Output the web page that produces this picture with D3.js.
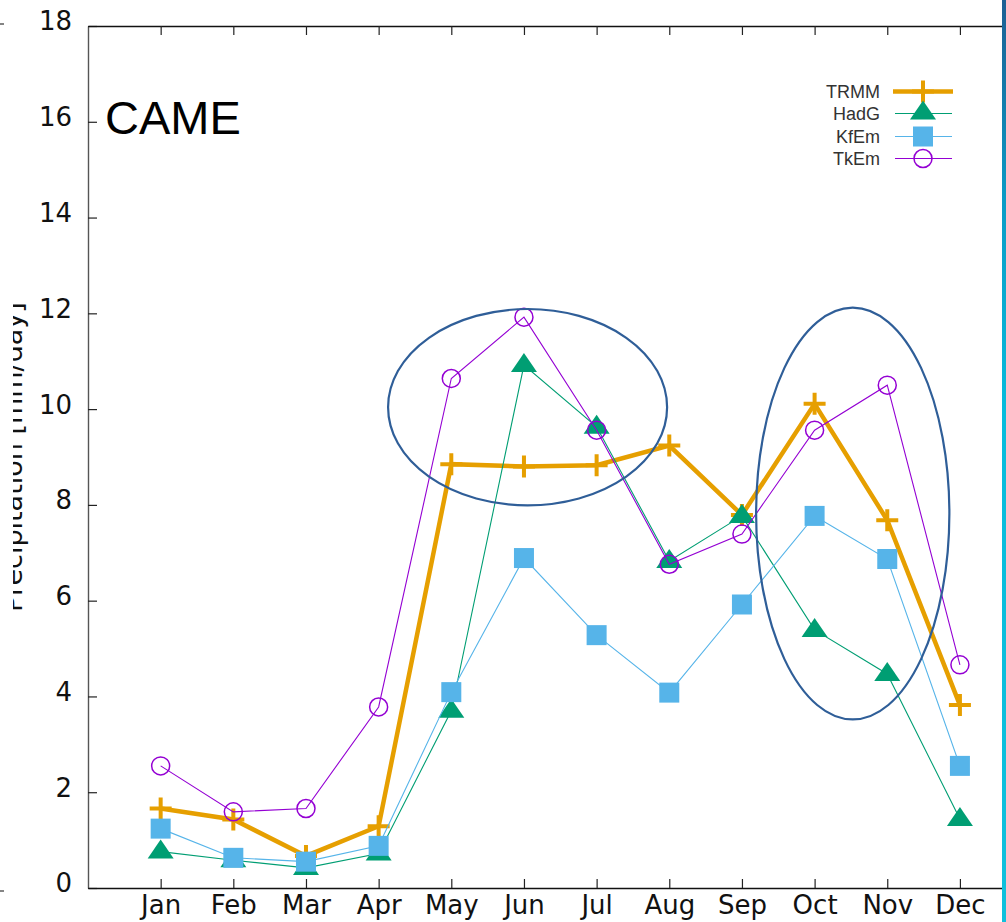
<!DOCTYPE html>
<html>
<head>
<meta charset="utf-8">
<script src="https://cdn.jsdelivr.net/npm/d3@7"></script>
<style>
  html, body { margin: 0; padding: 0; background: #fff; }
  svg { display: block; }
</style>
</head>
<body>
<svg id="chart" width="1006" height="922"></svg>
<script>
// Monthly mean precipitation (mm/day), CAME region
const months = ["Jan","Feb","Mar","Apr","May","Jun","Jul","Aug","Sep","Oct","Nov","Dec"];
const trmm = [1.66, 1.43, 0.67, 1.29, 8.85, 8.80, 8.83, 9.24, 7.79, 10.11, 7.68, 3.82];
const hadg = [0.76, 0.58, 0.42, 0.72, 3.70, 10.92, 9.63, 6.83, 7.77, 5.39, 4.47, 1.44];
const kfem = [1.24, 0.63, 0.55, 0.88, 4.09, 6.89, 5.28, 4.08, 5.92, 7.77, 6.87, 2.55];
const tkem = [2.55, 1.59, 1.66, 3.78, 10.64, 11.92, 9.56, 6.76, 7.39, 9.56, 10.50, 4.66];
const yTicks = [0, 2, 4, 6, 8, 10, 12, 14, 16, 18];
const seriesNames = ["TRMM", "HadG", "KfEm", "TkEm"];
const regionTitle = "CAME";
const yLabel = "Precipitation [mm/day]";
// Highlighted periods: [centre month, centre value, half-width in months, half-height in mm/day]
const highlightA = [6.05, 10.04, 1.92, 2.05];
const highlightB = [10.525, 7.82, 1.33, 4.30];

(function () {
const svg = d3.select("#chart");
const W = 1006, H = 922;
const plotLeft = 88, plotTop = 26, plotBottom = 888, visibleRight = 1002;

const x = d3.scaleLinear().domain([0, 13]).range([plotLeft, plotLeft + 13 * 72.66]);
const y = d3.scaleLinear().domain([0, 18]).range([plotBottom, plotTop]);

const styles = [
  { name: seriesNames[0], values: trmm, color: "#E69F00", width: 4.5, marker: "plus" },
  { name: seriesNames[1], values: hadg, color: "#009E73", width: 1.1, marker: "triangle" },
  { name: seriesNames[2], values: kfem, color: "#56B4E9", width: 1.1, marker: "square" },
  { name: seriesNames[3], values: tkem, color: "#9400D3", width: 1.1, marker: "circle" }
];

const defs = svg.append("defs");
defs.append("clipPath").attr("id", "plotClip")
  .append("rect").attr("x", plotLeft).attr("y", 0).attr("width", visibleRight - plotLeft).attr("height", H);
defs.append("clipPath").attr("id", "labelClip")
  .append("rect").attr("x", 13).attr("y", 0).attr("width", 60).attr("height", H);

const grad = defs.append("linearGradient").attr("id", "edgeGrad")
  .attr("x1", 0).attr("y1", 0).attr("x2", 0).attr("y2", 1);
grad.append("stop").attr("offset", "0%").attr("stop-color", "#1d5f93");
grad.append("stop").attr("offset", "22%").attr("stop-color", "#0a9cc6");
grad.append("stop").attr("offset", "45%").attr("stop-color", "#08bcdc");
grad.append("stop").attr("offset", "100%").attr("stop-color", "#10c0dc");

const tickFont = "'DejaVu Sans', sans-serif";

// Y axis (ticks pointing inward)
const yAxis = d3.axisLeft(y).tickValues(yTicks).tickSize(-9).tickSizeOuter(0).tickPadding(16)
  .tickFormat(d3.format("d"));
const gy = svg.append("g").attr("transform", `translate(${plotLeft},0)`).call(yAxis);
gy.select(".domain").attr("stroke", "#555").attr("stroke-width", 1.4);
gy.selectAll(".tick line").attr("stroke", "#222").attr("stroke-width", 1.2);
gy.selectAll(".tick text").attr("font-family", tickFont).attr("font-size", 26)
  .attr("fill", "#111").attr("dy", "0.15em");

// X axis (bottom, ticks inward)
const xAxis = d3.axisBottom(x).tickValues(d3.range(1, 13)).tickSize(-9).tickSizeOuter(0).tickPadding(8)
  .tickFormat(d => months[d - 1]);
const gx = svg.append("g").attr("transform", `translate(0,${plotBottom})`).call(xAxis);
gx.select(".domain").attr("stroke", "#111").attr("stroke-width", 1.4);
gx.selectAll(".tick line").attr("stroke", "#222").attr("stroke-width", 1.2);
gx.selectAll(".tick text").attr("font-family", tickFont).attr("font-size", 26).attr("fill", "#111");

// Top border with mirrored ticks
const xTop = d3.axisTop(x).tickValues(d3.range(1, 13)).tickSize(-9).tickSizeOuter(0).tickFormat("");
const gt = svg.append("g").attr("transform", `translate(0,${plotTop})`).call(xTop);
gt.select(".domain").attr("stroke", "#111").attr("stroke-width", 1.4);
gt.selectAll(".tick line").attr("stroke", "#222").attr("stroke-width", 1.2);

// Axis title, running up the left edge (partly outside the page)
svg.append("g").attr("clip-path", "url(#labelClip)")
  .append("text")
  .attr("transform", `translate(22,${(plotTop + plotBottom) / 2}) rotate(-90)`)
  .attr("text-anchor", "middle")
  .attr("font-family", tickFont).attr("font-size", 27).attr("fill", "#111")
  .text(yLabel);

// Region title
svg.append("text").attr("x", 105).attr("y", 134)
  .attr("font-family", "'Liberation Sans', Arial, sans-serif").attr("font-size", 47).attr("fill", "#000")
  .text(regionTitle);

// Marker drawing
function drawMarker(g, s) {
  if (s.marker === "plus") {
    g.append("path").attr("d", "M-11,0H11M0,-11V11").attr("stroke", s.color).attr("stroke-width", 4).attr("fill", "none");
  } else if (s.marker === "triangle") {
    g.append("path").attr("d", "M0,-12L13,7L-13,7Z").attr("fill", s.color);
  } else if (s.marker === "square") {
    g.append("rect").attr("x", -10).attr("y", -10).attr("width", 20).attr("height", 20).attr("fill", s.color);
  } else {
    g.append("circle").attr("r", 9).attr("fill", "none").attr("stroke", s.color).attr("stroke-width", 1.5);
  }
}

const plot = svg.append("g").attr("clip-path", "url(#plotClip)");
const line = d3.line().x((d, i) => x(i + 1)).y(d => y(d));

styles.forEach(s => {
  const g = plot.append("g");
  g.append("path").datum(s.values).attr("d", line)
    .attr("fill", "none").attr("stroke", s.color).attr("stroke-width", s.width)
    .attr("stroke-linejoin", "miter");
  s.values.forEach((v, i) => {
    const m = g.append("g").attr("transform", `translate(${x(i + 1)},${y(v)})`);
    drawMarker(m, s);
  });
});

// Highlight ellipses
[highlightA, highlightB].forEach(([cm, cv, hw, hh]) => {
  plot.append("ellipse")
    .attr("cx", x(cm)).attr("cy", y(cv))
    .attr("rx", x(cm + hw) - x(cm)).attr("ry", y(0) - y(hh))
    .attr("fill", "none").attr("stroke", "#2f5e98").attr("stroke-width", 2.2);
});

// Legend
const legend = svg.append("g");
const legRows = [91.5, 113.5, 136.5, 158.5];
styles.forEach((s, i) => {
  const ly = legRows[i];
  legend.append("text").attr("x", 880).attr("y", ly).attr("dy", "0.35em")
    .attr("text-anchor", "end")
    .attr("font-family", "'Liberation Sans', Arial, sans-serif").attr("font-size", 18).attr("fill", "#333")
    .text(s.name);
  legend.append("line").attr("x1", i === 0 ? 893 : 895).attr("x2", i === 0 ? 953 : 952)
    .attr("y1", ly).attr("y2", ly)
    .attr("stroke", s.color).attr("stroke-width", s.width);
  const m = legend.append("g").attr("transform", `translate(923,${i === 1 ? ly - 1 : ly})`);
  drawMarker(m, s);
});

// Small edge ticks at the far left
[y(18) - 2, y(0) + 3].forEach(v => {
  svg.append("line").attr("x1", 0).attr("x2", 4).attr("y1", v).attr("y2", v)
    .attr("stroke", "#333").attr("stroke-width", 1.2);
});

// Coloured right edge
svg.append("rect").attr("x", visibleRight).attr("y", 0).attr("width", W - visibleRight).attr("height", H)
  .attr("fill", "url(#edgeGrad)");
})();
</script>
</body>
</html>
